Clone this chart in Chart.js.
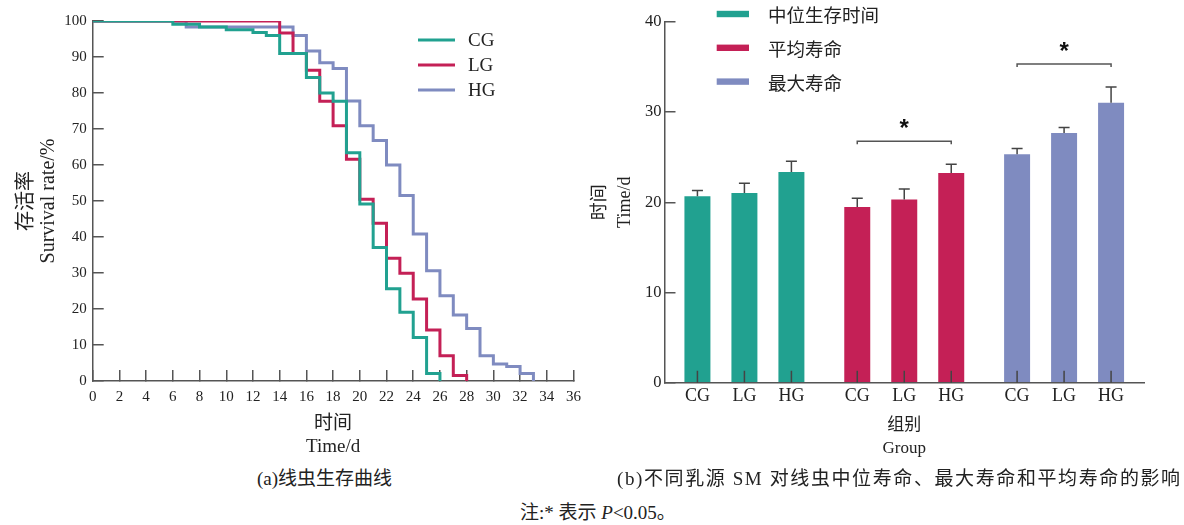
<!DOCTYPE html>
<html>
<head>
<meta charset="utf-8">
<script src="https://cdn.jsdelivr.net/npm/chart.js@4.4.1/dist/chart.umd.min.js"></script>
<style>
  body { margin: 0; background: #fff; }
  #wrap { position: relative; width: 1184px; height: 525px; overflow: hidden;
          font-family: 'Liberation Serif', 'Noto Sans CJK SC', serif; color: #222; }
  #survival { position: absolute; left: 0; top: -5px; }
  #lifespan { position: absolute; left: 588px; top: -2px; }
  .cap { position: absolute; font-size: 19px; line-height: 26px; white-space: nowrap; }
</style>
</head>
<body>
<div id="wrap">
  <canvas id="survival" width="599" height="465"></canvas>
  <canvas id="lifespan" width="596" height="462"></canvas>
  <div class="cap" style="left:257px;top:466px;">(a)线虫生存曲线</div>
  <div class="cap" style="left:617px;top:466px;letter-spacing:1.6px;">(b)不同乳源 SM 对线虫中位寿命、最大寿命和平均寿命的影响</div>
  <div class="cap" style="left:520px;top:500px;">注:* 表示 <i>P</i>&lt;0.05。</div>
</div>
<script>
// survival curves: day of each drop and survival rate (%) after it
const cgDays = [0, 6, 8, 10, 12, 13, 14, 16, 17, 18, 19, 20, 21, 22, 23, 24, 25, 26];
const cgRate = [100, 99.1, 98.3, 97.6, 96.8, 96, 91, 84.3, 80, 77.7, 63.4, 49.2, 37.1, 25.6, 19.1, 12.1, 2.1, 0];
const lgDays = [0, 14, 15, 16, 17, 18, 19, 20, 21, 22, 23, 24, 25, 26, 27, 28];
const lgRate = [100, 96.7, 91, 86.3, 77.7, 70.9, 61.6, 50.5, 43.8, 34.1, 29.9, 22.8, 14.2, 7.0, 1.5, 0];
const hgDays = [0, 7, 15, 16, 17, 18, 19, 20, 21, 22, 23, 24, 25, 26, 27, 28, 29, 30, 31, 32, 33];
const hgRate = [100, 98.3, 96, 91.7, 88.4, 86.8, 77.8, 70.9, 66.8, 60, 51.5, 40.8, 30.6, 23.7, 18.3, 14.6, 7.0, 4.7, 4.0, 2.1, 0];

// lifespan bars (days)
const groups = ['CG', 'LG', 'HG'];
const metrics = ['中位生存时间', '平均寿命', '最大寿命'];
const cgMeans = [20.67, 19.49, 25.33];
const lgMeans = [21.04, 20.30, 27.67];
const hgMeans = [23.37, 23.26, 31.04];
const cgErr = [0.63, 0.96, 0.64];
const lgErr = [1.06, 1.18, 0.63];
const hgErr = [1.19, 0.96, 1.74];
const sigMetrics = [1, 2]; // CG vs HG marked with *

const teal = '#21a190';
const crimson = '#c42056';
const lilac = '#7f8bc0';
const axisColor = '#555';
const serif = "'Liberation Serif', 'Noto Sans CJK SC', serif";

function toPoints(days, rates) {
  return days.map((d, i) => ({ x: d, y: rates[i] }));
}

// legend for the survival plot (canvas is shifted up 5px)
const survivalLegend = {
  id: 'survivalLegend',
  afterDraw(chart) {
    const ctx = chart.ctx;
    ctx.save();
    chart.data.datasets.forEach((ds, i) => {
      const y = 45 + i * 25;
      ctx.strokeStyle = ds.borderColor;
      ctx.lineWidth = 3;
      ctx.beginPath();
      ctx.moveTo(418, y);
      ctx.lineTo(455, y);
      ctx.stroke();
      ctx.fillStyle = '#222';
      ctx.font = '19px ' + serif;
      ctx.textBaseline = 'middle';
      ctx.fillText(ds.label, 468, y + 1);
    });
    ctx.restore();
  }
};

new Chart(document.getElementById('survival'), {
  type: 'line',
  data: {
    datasets: [
      { label: 'CG', data: toPoints(cgDays, cgRate), borderColor: teal },
      { label: 'LG', data: toPoints(lgDays, lgRate), borderColor: crimson },
      { label: 'HG', data: toPoints(hgDays, hgRate), borderColor: lilac }
    ].map(ds => Object.assign(ds, { stepped: true, borderWidth: 3, pointRadius: 0, fill: false }))
  },
  options: {
    responsive: false,
    animation: false,
    layout: { padding: 0 },
    plugins: { legend: { display: false }, tooltip: { enabled: false } },
    scales: {
      x: {
        type: 'linear', min: 0, max: 36,
        ticks: { stepSize: 2, autoSkip: false, maxRotation: 0, padding: 18, color: '#222',
                 font: { family: serif, size: 15 } },
        grid: { drawOnChartArea: false, tickLength: -11, color: axisColor, lineWidth: 1.5 },
        border: { color: axisColor, width: 1.5 },
        title: { display: true, text: ['时间', 'Time/d'], color: '#222',
                 font: { family: serif, size: 19, lineHeight: 1.2 }, padding: { top: 0, bottom: 2 } },
        afterFit: s => { s.height = 79; }
      },
      y: {
        min: 0, max: 100,
        ticks: { stepSize: 10, padding: 17, color: '#222', font: { family: serif, size: 15 } },
        grid: { drawOnChartArea: false, tickLength: -11, color: axisColor, lineWidth: 1.5 },
        border: { color: axisColor, width: 1.5 },
        title: { display: true, text: ['存活率', 'Survival rate/%'], color: '#222',
                 font: { family: serif, size: 20, lineHeight: 1.1 }, padding: { top: 16, bottom: 0 } },
        afterFit: s => { s.width = 92.7; }
      }
    }
  },
  plugins: [survivalLegend]
});

// error bars, group labels, inner ticks, significance and legend for the bar plot
const barDecor = {
  id: 'barDecor',
  afterDatasetsDraw(chart) {
    const ctx = chart.ctx;
    const yScale = chart.scales.y;
    const base = chart.scales.x.top;
    const errs = [cgErr, lgErr, hgErr];
    const errTops = metrics.map(() => []);
    ctx.save();
    chart.data.datasets.forEach((ds, i) => {
      const meta = chart.getDatasetMeta(i);
      meta.data.forEach((bar, j) => {
        const yTop = yScale.getPixelForValue(ds.data[j] + errs[i][j]);
        errTops[j].push(yTop);
        ctx.strokeStyle = '#444';
        ctx.lineWidth = 1.5;
        ctx.beginPath();
        ctx.moveTo(bar.x, bar.y);
        ctx.lineTo(bar.x, yTop);
        ctx.moveTo(bar.x - 5.5, yTop);
        ctx.lineTo(bar.x + 5.5, yTop);
        // inner tick mark at bar centre
        ctx.moveTo(bar.x, base);
        ctx.lineTo(bar.x, base - 12);
        ctx.stroke();
        ctx.fillStyle = '#222';
        ctx.font = '18px ' + serif;
        ctx.textAlign = 'center';
        ctx.textBaseline = 'middle';
        ctx.fillText(groups[i], bar.x, base + 13.5);
      });
    });
    sigMetrics.forEach(j => {
      const x1 = chart.getDatasetMeta(0).data[j].x;
      const x2 = chart.getDatasetMeta(2).data[j].x;
      const yb = Math.min(...errTops[j]) - 23;
      ctx.strokeStyle = '#555';
      ctx.lineWidth = 1.5;
      ctx.beginPath();
      ctx.moveTo(x1, yb + 3);
      ctx.lineTo(x1, yb);
      ctx.lineTo(x2, yb);
      ctx.lineTo(x2, yb + 3);
      ctx.stroke();
      ctx.fillStyle = '#111';
      ctx.font = 'bold 24px "Liberation Sans", sans-serif';
      ctx.textAlign = 'center';
      ctx.textBaseline = 'alphabetic';
      ctx.fillText('*', (x1 + x2) / 2, yb - 5);
    });
    // legend (canvas is shifted up 2px)
    metrics.forEach((m, k) => {
      const y = 16 + k * 33.8;
      ctx.fillStyle = chart.data.datasets[0].backgroundColor[k];
      ctx.fillRect(128.7, y - 3.2, 32.3, 6.4);
      ctx.fillStyle = '#222';
      ctx.font = '18.5px "Noto Sans CJK SC", sans-serif';
      ctx.textAlign = 'left';
      ctx.textBaseline = 'middle';
      ctx.fillText(m, 180, y + 1);
    });
    ctx.restore();
  }
};

const metricColors = [teal, crimson, lilac];

new Chart(document.getElementById('lifespan'), {
  type: 'bar',
  data: {
    labels: metrics,
    datasets: [
      { label: 'CG', data: cgMeans },
      { label: 'LG', data: lgMeans },
      { label: 'HG', data: hgMeans }
    ].map(ds => Object.assign(ds, { backgroundColor: metricColors, categoryPercentage: 0.882, barPercentage: 0.553 }))
  },
  options: {
    responsive: false,
    animation: false,
    layout: { padding: { top: 0, right: 40, bottom: 0, left: 0 } },
    plugins: { legend: { display: false }, tooltip: { enabled: false } },
    scales: {
      x: {
        ticks: { display: false },
        grid: { drawOnChartArea: false, drawTicks: false, color: axisColor },
        border: { color: axisColor, width: 1.5 },
        title: { display: true, text: ['组别', 'Group'], color: '#222',
                 font: { family: serif, size: 17, lineHeight: 1.35 }, padding: { top: 0, bottom: 0 } },
        afterFit: s => { s.height = 77.3; }
      },
      y: {
        min: 0, max: 40,
        ticks: { stepSize: 10, padding: 14, color: '#222', font: { family: serif, size: 16.5 } },
        grid: { drawOnChartArea: false, tickLength: -11, color: axisColor, lineWidth: 1.5 },
        border: { color: axisColor, width: 1.5 },
        title: { display: true, text: ['时间', 'Time/d'], color: '#222',
                 font: { family: serif, size: 18, lineHeight: 1.39 }, padding: { top: 0, bottom: 0 } },
        afterFit: s => { s.width = 76.5; }
      }
    }
  },
  plugins: [barDecor]
});
</script>
</body>
</html>
